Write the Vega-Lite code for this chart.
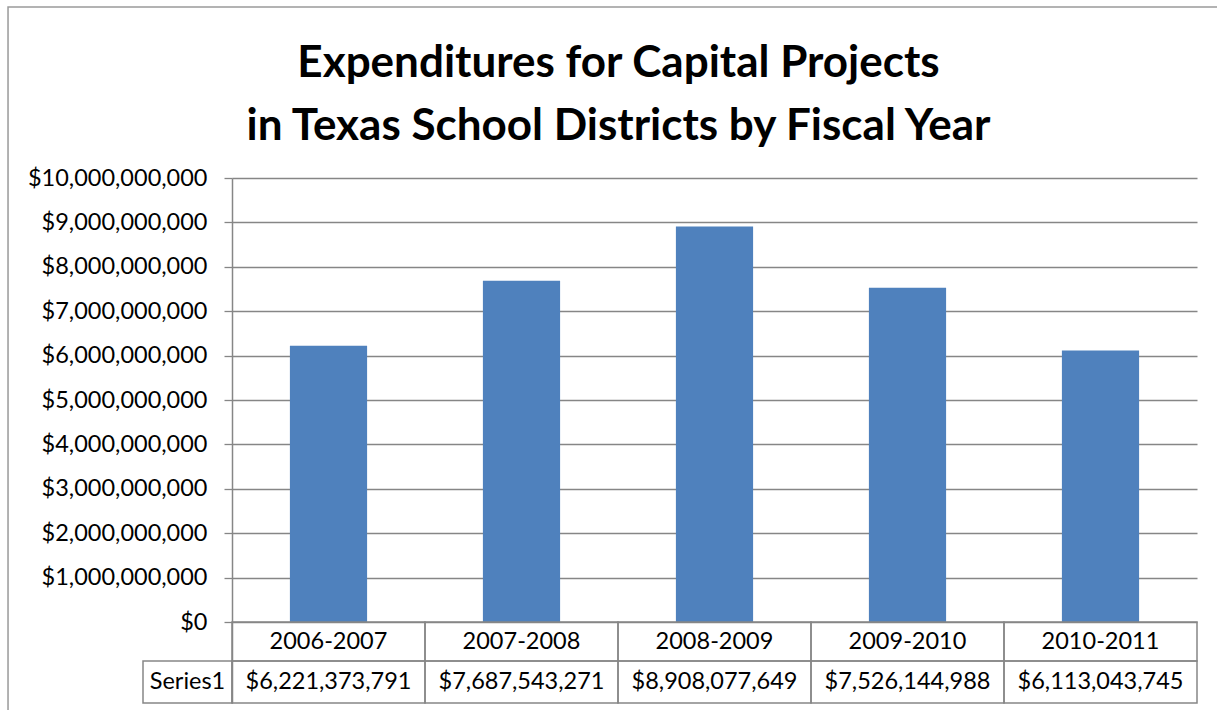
{
  "$schema": "https://vega.github.io/schema/vega-lite/v6.json",
  "width": 965,
  "height": 525,
  "autosize": {"type": "none"},
  "padding": {"left": 232, "top": 178, "right": 20, "bottom": 7},
  "background": "white",
  "title": {
    "text": ["Expenditures for Capital Projects", "in Texas School Districts by Fiscal Year"],
    "font": "Lato",
    "fontSize": 44,
    "fontWeight": "bold",
    "color": "black",
    "anchor": "middle",
    "frame": "group",
    "dx": -96,
    "dy": 143,
    "lineHeight": 63,
    "offset": 0
  },
  "config": {"view": {"stroke": null}, "font": "Lato"},
  "datasets": {
    "spend": [
      {"year": "2006-2007", "amount": 6221373791},
      {"year": "2007-2008", "amount": 7687543271},
      {"year": "2008-2009", "amount": 8908077649},
      {"year": "2009-2010", "amount": 7526144988},
      {"year": "2010-2011", "amount": 6113043745}
    ],
    "rowlabel": [{"label": "Series1"}],
    "frame": [{"part": "border"}]
  },
  "layer": [
    {
      "data": {"name": "spend"},
      "encoding": {
        "x": {"field": "year", "type": "nominal", "sort": null, "scale": {"type": "band", "paddingInner": 0, "paddingOuter": 0}, "axis": null}
      },
      "layer": [
        {
          "mark": {"type": "bar", "width": {"band": 0.4}, "color": "#4F81BD"},
          "encoding": {
            "y": {
              "field": "amount", "type": "quantitative",
              "scale": {"domain": [-1824000000, 10000000000], "nice": false, "zero": false},
              "axis": {
                "values": [0, 1000000000, 2000000000, 3000000000, 4000000000, 5000000000, 6000000000, 7000000000, 8000000000, 9000000000, 10000000000],
                "format": "$,.0f",
                "grid": true, "gridColor": "#868686", "gridWidth": 1.3,
                "domainColor": "#868686", "domainWidth": 1.5,
                "tickColor": "#868686", "tickSize": 8, "tickWidth": 1.3,
                "labelPadding": 17, "labelFont": "Lato", "labelFontSize": 23.5, "labelColor": "black",
                "title": null
              }
            }
          }
        },
        {
          "mark": {"type": "rect", "fill": "transparent", "stroke": "#868686", "strokeWidth": 1.5},
          "encoding": {"y": {"datum": 0}, "y2": {"datum": -878000000}}
        },
        {
          "mark": {"type": "rect", "fill": "transparent", "stroke": "#868686", "strokeWidth": 1.5},
          "encoding": {"y": {"datum": -878000000}, "y2": {"datum": -1824000000}}
        },
        {
          "mark": {"type": "text", "font": "Lato", "fontSize": 23.5, "color": "black", "baseline": "middle"},
          "encoding": {"y": {"datum": -439000000}, "text": {"field": "year"}}
        },
        {
          "mark": {"type": "text", "font": "Lato", "fontSize": 23.5, "color": "black", "baseline": "middle"},
          "encoding": {"y": {"datum": -1351000000}, "text": {"field": "amount", "format": "$,.0f"}}
        }
      ]
    },
    {
      "data": {"name": "rowlabel"},
      "encoding": {
        "x": {"field": "label", "type": "nominal", "scale": {"type": "band", "domain": ["Series1"], "range": [-89, 0], "paddingInner": 0, "paddingOuter": 0}, "axis": null}
      },
      "layer": [
        {
          "mark": {"type": "rect", "fill": "transparent", "stroke": "#868686", "strokeWidth": 1.5},
          "encoding": {"y": {"datum": -878000000}, "y2": {"datum": -1824000000}}
        },
        {
          "mark": {"type": "text", "font": "Lato", "fontSize": 23.5, "color": "black", "baseline": "middle"},
          "encoding": {"y": {"datum": -1351000000}, "text": {"field": "label"}}
        }
      ]
    },
    {
      "data": {"name": "frame"},
      "mark": {"type": "rect", "fill": "transparent", "stroke": "#9a9a9a", "strokeWidth": 1.5},
      "encoding": {
        "x": {"datum": -0.2321, "type": "quantitative", "scale": {"domain": [0, 1], "nice": false, "zero": false}, "axis": null},
        "x2": {"datum": 1.04},
        "y": {"datum": 13850000000},
        "y2": {"datum": -3000000000}
      }
    }
  ],
  "resolve": {"scale": {"x": "independent"}, "axis": {"x": "independent"}}
}
